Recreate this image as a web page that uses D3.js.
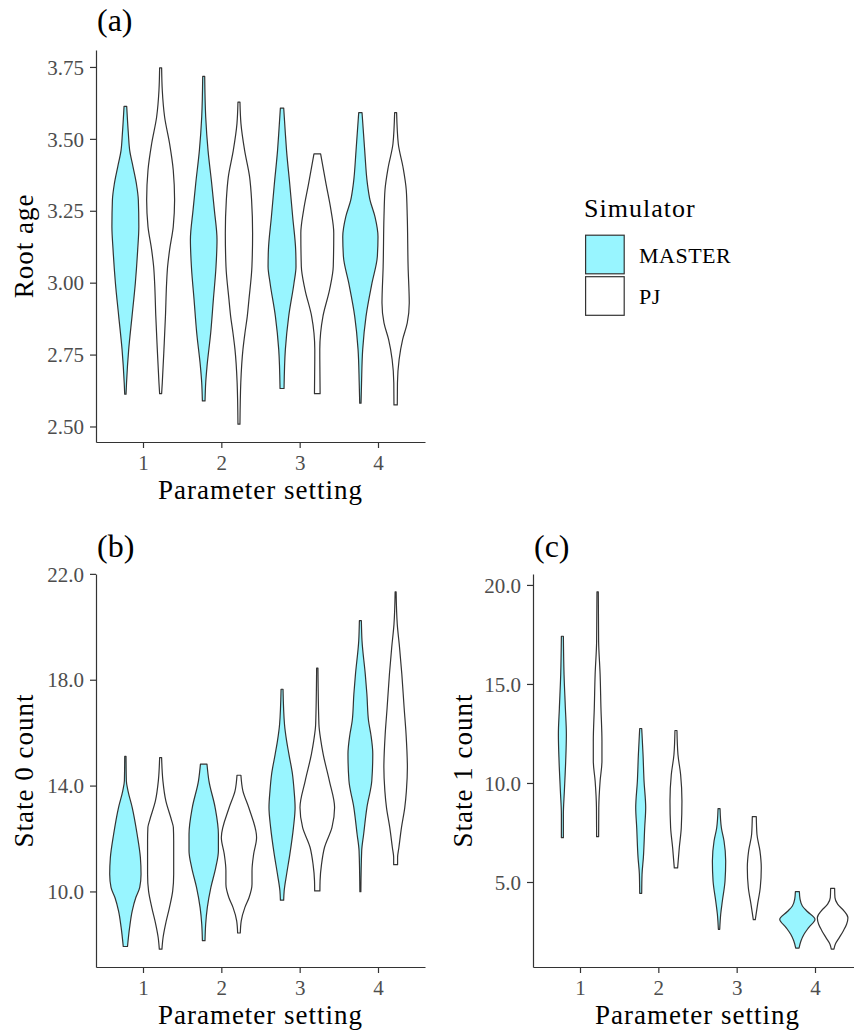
<!DOCTYPE html>
<html><head><meta charset="utf-8">
<script src="https://cdn.jsdelivr.net/npm/d3@7"></script>
<style>body{margin:0;background:#fff}</style>
</head><body>
<svg id="chart" width="854" height="1032" xmlns="http://www.w3.org/2000/svg"></svg>
<script>
// ---------------- data ----------------
const categories = [1, 2, 3, 4];
const simulators = ["MASTER", "PJ"];
const rootAgeTicks = [2.50, 2.75, 3.00, 3.25, 3.50, 3.75];
const state0Ticks = [10, 14, 18, 22];
const state1Ticks = [5, 10, 15, 20];

// violin profiles: per category, list of [value, relative density]
const rootAgeMaster = [
  [[3.613,4],[3.518,9],[3.460,13],[3.403,23],[3.345,33],[3.287,39],[3.195,40.5],[3.114,37],[2.999,30],[2.883,20],[2.768,10],[2.652,3.5],[2.612,2]],
  [[3.717,3],[3.576,6],[3.460,13],[3.345,24],[3.253,32],[3.149,40],[3.056,37],[2.941,29],[2.825,21],[2.710,10],[2.652,6],[2.589,4]],
  [[3.607,5],[3.518,10],[3.460,13.5],[3.345,23],[3.229,32],[3.114,41],[3.056,42],[2.999,36],[2.883,20],[2.768,10],[2.632,6]],
  [[3.591,5],[3.460,13],[3.345,21],[3.287,29],[3.229,44],[3.160,53],[3.091,51],[2.999,35],[2.883,17],[2.768,7],[2.652,3.5],[2.581,2]]
];
const rootAgePJ = [
  [[3.747,3],[3.668,5],[3.576,12],[3.483,27],[3.391,38],[3.287,42],[3.195,38],[3.114,27],[3.056,21],[2.999,18],[2.883,14.5],[2.768,10],[2.652,5],[2.614,3]],
  [[3.628,3],[3.553,6],[3.460,17],[3.368,32],[3.287,38],[3.172,41],[3.056,39],[2.941,30],[2.883,25],[2.825,18],[2.768,12],[2.652,5.5],[2.508,3]],
  [[3.448,10],[3.345,26],[3.253,41],[3.172,49.5],[3.056,48],[2.976,37],[2.883,17],[2.825,10],[2.768,7.5],[2.614,8.5]],
  [[3.591,3],[3.483,8],[3.403,22],[3.322,32],[3.229,35],[3.056,37.5],[2.929,41],[2.860,35],[2.802,21],[2.733,10.5],[2.652,5.5],[2.575,5]]
];
const state0Master = [
  [[15.10,2],[14.18,3],[13.80,8],[13.17,21],[12.16,36],[11.28,46],[10.65,48],[10.15,44],[9.77,32],[9.27,21],[8.64,13],[7.92,6.5]],
  [[14.81,10],[14.18,16],[13.17,35],[12.16,45],[11.53,45],[10.91,37],[10.15,22],[9.39,11],[8.76,6],[8.14,4]],
  [[17.64,3],[16.32,7.5],[15.69,14],[15.19,21],[14.43,32],[13.80,37],[13.17,40],[12.42,35],[11.41,24],[10.65,14],[10.02,6.5],[9.67,5]],
  [[20.23,3],[19.47,5],[18.21,15],[17.45,20],[16.45,25],[15.94,32],[15.19,38],[14.18,35],[13.17,20],[12.16,10],[11.53,4],[9.99,1.5]]
];
const state0PJ = [
  [[15.06,3],[14.18,7],[13.42,16],[12.67,34],[12.42,39],[11.91,40],[10.65,40],[10.02,37],[9.39,27],[8.76,15],[8.26,7.5],[7.82,4]],
  [[14.39,6],[13.80,12],[13.17,30],[12.04,54],[11.41,45],[10.78,40],[10.28,40],[9.77,31],[9.39,18],[8.89,7],[8.43,4]],
  [[18.44,2],[16.32,5],[15.69,11],[15.19,18],[14.18,37],[13.17,53],[12.42,45],[11.66,22],[11.03,13],[10.40,8.5],[10.02,8]],
  [[21.32,1.5],[20.10,5],[19.22,12],[18.21,19],[16.95,26],[15.94,32],[14.68,36],[13.80,33],[13.17,28],[12.42,18],[11.66,10],[11.28,6],[11.01,6]]
];
const state1Master = [
  [[17.41,3],[15.48,5],[13.79,9],[12.45,12],[11.11,10],[9.59,6],[8.42,3],[7.24,3]],
  [[12.75,3],[11.44,7],[10.10,10],[8.75,15],[7.74,12],[6.23,8],[5.39,4],[4.43,3]],
  [[8.70,3],[7.74,7],[7.07,15],[6.06,20],[5.05,18],[4.04,10],[3.37,5],[2.61,2]],
  [[4.51,6],[4.13,8],[3.79,15],[3.51,30],[3.12,53],[2.70,34],[2.36,20],[2.03,11],[1.66,5]]
];
const state1PJ = [
  [[19.65,2],[17.16,3],[15.48,7.5],[13.79,10],[12.11,13],[11.11,13],[10.10,7.5],[8.75,3.5],[7.29,3]],
  [[12.65,3],[11.44,6],[10.43,14],[9.09,18],[7.74,16],[6.73,10],[5.71,5]],
  [[8.30,6],[7.41,8],[6.57,17],[5.72,21],[4.72,18],[3.88,10],[3.10,3]],
  [[4.68,6],[4.21,7],[3.88,15],[3.54,34],[3.20,46],[2.87,42],[2.53,32],[2.19,20],[1.86,8],[1.61,4]]
];

// ---------------- style / layout ----------------
const FONT = "'Liberation Serif', 'Times New Roman', serif";
const fills = { MASTER: "#98F5FF", PJ: "#FFFFFF" };
const OUTLINE = "#333333";
const AXIS = "#333333";
const TICKTEXT = "#4d4d4d";

const panels = [
  { tag: "(a)", ytitle: "Root age", master: rootAgeMaster, pj: rootAgePJ, ticks: rootAgeTicks, fmt: ".2f",
    left: 96, right: 425, top: 50, bottom: 442, ytitleX: 33, tagX: 97, tagY: 31 },
  { tag: "(b)", ytitle: "State 0 count", master: state0Master, pj: state0PJ, ticks: state0Ticks, fmt: ".1f",
    left: 96, right: 425, top: 574, bottom: 967, ytitleX: 33, tagX: 97, tagY: 557 },
  { tag: "(c)", ytitle: "State 1 count", master: state1Master, pj: state1PJ, ticks: state1Ticks, fmt: ".1f",
    left: 533, right: 862, top: 574, bottom: 967, ytitleX: 472, tagX: 534, tagY: 557 }
];

const svg = d3.select("#chart");
svg.append("rect").attr("width", 854).attr("height", 1032).attr("fill", "#fff");

panels.forEach(p => {
  const all = p.master.concat(p.pj).flat();
  const vmin = d3.min(all, d => d[0]), vmax = d3.max(all, d => d[0]);
  const pad = (vmax - vmin) * 0.05;
  const dmax = d3.max(all, d => d[1]);

  const x = d3.scaleLinear().domain([0.4, 4.6]).range([p.left, p.right]);
  const y = d3.scaleLinear().domain([vmin - pad, vmax + pad]).range([p.bottom, p.top]);
  const dodge = d3.scaleOrdinal().domain(simulators).range([-0.225, 0.225]);
  const halfW = d3.scaleLinear().domain([0, dmax]).range([0, 0.225]);

  const g = svg.append("g");

  simulators.forEach(sim => {
    const series = sim === "MASTER" ? p.master : p.pj;
    series.forEach((profile, i) => {
      const c = categories[i] + dodge(sim);
      const pts = profile.slice().sort((a, b) => b[0] - a[0]);
      const area = d3.area()
        .curve(d3.curveMonotoneY)
        .y(d => y(d[0]))
        .x0(d => x(c - halfW(d[1])))
        .x1(d => x(c + halfW(d[1])));
      g.append("path")
        .attr("d", area(pts))
        .attr("fill", fills[sim])
        .attr("stroke", OUTLINE)
        .attr("stroke-width", 1.2)
        .attr("stroke-linejoin", "round");
    });
  });

  // axes
  const yAxis = g.append("g").attr("transform", `translate(${p.left},0)`)
    .call(d3.axisLeft(y).tickValues(p.ticks).tickFormat(d3.format(p.fmt)).tickSize(6).tickSizeOuter(0));
  const xAxis = g.append("g").attr("transform", `translate(0,${p.bottom})`)
    .call(d3.axisBottom(x).tickValues(categories).tickFormat(d3.format("d")).tickSize(6).tickSizeOuter(0));
  [yAxis, xAxis].forEach(a => {
    a.select(".domain").attr("stroke", AXIS).attr("stroke-width", 1.2);
    a.selectAll(".tick line").attr("stroke", AXIS).attr("stroke-width", 1.2);
    a.selectAll(".tick text").attr("fill", TICKTEXT).attr("font-family", FONT).attr("font-size", 21);
  });
  yAxis.selectAll(".tick text").attr("x", -12).attr("dy", "0.34em");
  xAxis.selectAll(".tick text").attr("y", 28).attr("dy", null);

  // titles
  g.append("text").attr("x", (p.left + p.right) / 2).attr("y", p.bottom + 57)
    .attr("text-anchor", "middle").attr("font-family", FONT).attr("font-size", 27)
    .attr("letter-spacing", 1).attr("fill", "#000").text("Parameter setting");
  g.append("text")
    .attr("transform", `translate(${p.ytitleX},${(p.top + p.bottom) / 2}) rotate(-90)`)
    .attr("text-anchor", "middle").attr("font-family", FONT).attr("font-size", 27)
    .attr("letter-spacing", 1).attr("fill", "#000").text(p.ytitle);
  g.append("text").attr("x", p.tagX).attr("y", p.tagY)
    .attr("font-family", FONT).attr("font-size", 32).attr("fill", "#000").text(p.tag);
});

// legend
const lg = svg.append("g");
lg.append("text").attr("x", 584).attr("y", 217).attr("font-family", FONT).attr("font-size", 26)
  .attr("letter-spacing", 1).attr("fill", "#000").text("Simulator");
simulators.forEach((sim, i) => {
  const y0 = 235.2 + i * 41.5;
  lg.append("rect").attr("x", 585.6).attr("y", y0).attr("width", 38.6).attr("height", 38.6)
    .attr("fill", fills[sim]).attr("stroke", OUTLINE).attr("stroke-width", 1.2);
  lg.append("text").attr("x", 639).attr("y", y0 + 27.5).attr("font-family", FONT).attr("font-size", 22)
    .attr("letter-spacing", 0.5).attr("fill", "#000").text(sim);
});
</script>
</body></html>
